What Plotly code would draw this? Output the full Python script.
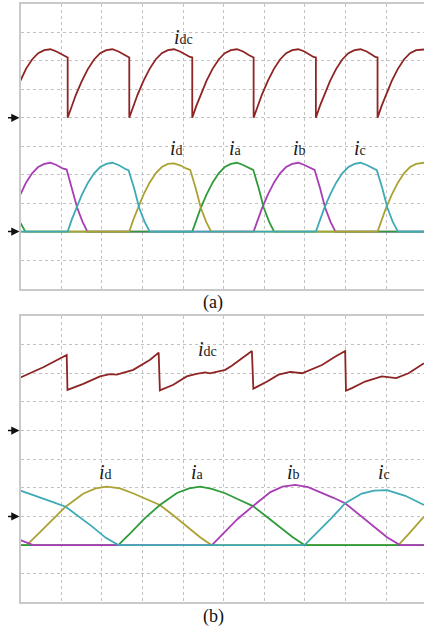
import plotly.graph_objects as go

# ---------------------------------------------------------------------------
# Waveform data: time in grid divisions, current in divisions above the
# channel's ground marker.
# ---------------------------------------------------------------------------

# (a) DC-link current
idc_a_t = [0.0, 0.135, 0.285, 0.435, 0.585, 0.735, 0.885, 1.035, 1.105, 1.161, 1.161,
           1.261, 1.361, 1.511, 1.661, 1.811, 1.961, 2.111, 2.261, 2.411, 2.561, 2.62, 2.677, 2.677,
           2.777, 2.877, 3.027, 3.177, 3.327, 3.477, 3.627, 3.777, 3.927, 4.077, 4.17, 4.227, 4.227,
           4.327, 4.427, 4.577, 4.727, 4.877, 5.027, 5.177, 5.327, 5.477, 5.627, 5.68, 5.737, 5.737,
           5.837, 5.937, 6.087, 6.237, 6.387, 6.537, 6.687, 6.837, 6.987, 7.137, 7.21, 7.269, 7.269,
           7.369, 7.469, 7.619, 7.769, 7.919, 8.069, 8.219, 8.369, 8.519, 8.669, 8.73, 8.787, 8.787,
           8.887, 8.987, 9.137, 9.287, 9.437, 9.587, 9.737, 9.93]
idc_a_i = [1.31, 1.72, 2.05, 2.27, 2.38, 2.41, 2.33, 2.20, 2.15, 2.12, 0.0,
           0.42, 0.80, 1.30, 1.72, 2.05, 2.27, 2.38, 2.41, 2.33, 2.20, 2.15, 2.12, 0.0,
           0.42, 0.80, 1.30, 1.72, 2.05, 2.27, 2.38, 2.41, 2.33, 2.20, 2.14, 2.12, 0.0,
           0.42, 0.80, 1.30, 1.72, 2.05, 2.27, 2.38, 2.41, 2.33, 2.20, 2.15, 2.12, 0.0,
           0.42, 0.80, 1.30, 1.72, 2.05, 2.27, 2.38, 2.41, 2.33, 2.20, 2.14, 2.12, 0.0,
           0.42, 0.80, 1.30, 1.72, 2.05, 2.27, 2.38, 2.41, 2.33, 2.20, 2.14, 2.12, 0.0,
           0.42, 0.80, 1.30, 1.72, 2.05, 2.27, 2.38, 2.40]

# (a) phase currents
ib_a_t = [0.0, 0.135, 0.285, 0.435, 0.585, 0.735, 0.885, 1.035, 1.135, 1.265, 1.395, 1.525, 1.645,
          5.737, 5.837, 5.937, 6.087, 6.237, 6.387, 6.537, 6.687, 6.837, 6.987, 7.137, 7.237,
          7.367, 7.497, 7.627, 7.75, 9.93]
ib_a_i = [1.31, 1.72, 2.05, 2.27, 2.38, 2.42, 2.34, 2.22, 2.18, 1.55, 0.84, 0.35, 0.0,
          0.0, 0.42, 0.80, 1.30, 1.72, 2.05, 2.27, 2.38, 2.42, 2.34, 2.22, 2.17,
          1.55, 0.84, 0.35, 0.0, 0.0]

ic_a_t = [0.0, 1.161, 1.261, 1.361, 1.511, 1.661, 1.811, 1.961, 2.111, 2.261, 2.411, 2.561, 2.661,
          2.791, 2.921, 3.051, 3.18,
          7.269, 7.369, 7.469, 7.619, 7.769, 7.919, 8.069, 8.219, 8.369, 8.519, 8.669, 8.769,
          8.899, 9.029, 9.159, 9.29, 9.93]
ic_a_i = [0.0, 0.0, 0.42, 0.80, 1.30, 1.72, 2.05, 2.27, 2.38, 2.42, 2.34, 2.22, 2.15,
          1.55, 0.84, 0.35, 0.0,
          0.0, 0.42, 0.80, 1.30, 1.72, 2.05, 2.27, 2.38, 2.42, 2.34, 2.22, 2.16,
          1.55, 0.84, 0.35, 0.0, 0.0]

id_a_t = [0.0, 2.677, 2.777, 2.877, 3.027, 3.177, 3.327, 3.477, 3.627, 3.777, 3.927, 4.077, 4.177,
          4.307, 4.437, 4.567, 4.69,
          8.787, 8.887, 8.987, 9.137, 9.287, 9.437, 9.587, 9.737, 9.93]
id_a_i = [0.0, 0.0, 0.42, 0.80, 1.30, 1.72, 2.05, 2.27, 2.38, 2.40, 2.33, 2.22, 2.17,
          1.55, 0.84, 0.35, 0.0,
          0.0, 0.42, 0.80, 1.30, 1.72, 2.05, 2.27, 2.38, 2.42]

ia_a_t = [0.0, 0.12, 4.227, 4.327, 4.427, 4.577, 4.727, 4.877, 5.027, 5.177, 5.327, 5.477, 5.627,
          5.727, 5.857, 5.987, 6.117, 6.24, 9.93]
ia_a_i = [0.30, 0.0, 0.0, 0.42, 0.80, 1.30, 1.72, 2.05, 2.27, 2.38, 2.42, 2.34, 2.22,
          2.17, 1.55, 0.84, 0.35, 0.0, 0.0]

# (b) DC-link current
idc_b_t = [0.0, 0.56, 1.137, 1.156, 1.545, 1.956, 2.20, 2.37, 2.775, 3.19, 3.40, 3.43,
           3.76, 4.09, 4.33, 4.55, 4.66, 4.80, 5.04, 5.20, 5.695, 5.73,
           6.07, 6.35, 6.64, 6.93, 7.42, 7.74, 7.99, 8.01,
           8.155, 8.48, 8.89, 9.245, 9.55, 9.93]
idc_b_i = [1.85, 2.21, 2.64, 1.42, 1.63, 1.89, 1.97, 1.95, 2.12, 2.47, 2.72, 1.40,
           1.60, 1.89, 1.98, 2.03, 2.00, 2.05, 2.12, 2.26, 2.78, 1.46,
           1.71, 1.95, 2.05, 2.00, 2.29, 2.58, 2.78, 1.39,
           1.48, 1.71, 1.89, 1.83, 2.00, 2.35]

# (b) phase currents
id_b_t = [0.0, 0.153, 0.48, 0.8, 1.11, 1.55, 1.85, 2.12, 2.45, 2.78, 3.10, 3.43, 3.75, 4.0,
          4.42, 4.70, 9.30, 9.55, 9.93]
id_b_i = [0.0, 0.0, 0.45, 0.92, 1.34, 1.80, 1.98, 2.04, 1.98, 1.80, 1.60, 1.40, 1.05, 0.76,
          0.27, 0.0, 0.0, 0.38, 0.99]

ia_b_t = [0.0, 2.406, 2.73, 3.05, 3.43, 3.85, 4.15, 4.42, 4.71, 5.05, 5.38, 5.72, 6.02, 6.28,
          6.70, 6.99, 9.93]
ia_b_i = [0.0, 0.0, 0.45, 0.92, 1.40, 1.82, 1.98, 2.04, 1.96, 1.80, 1.58, 1.36, 1.03, 0.74,
          0.27, 0.0, 0.0]

ib_b_t = [0.0, 0.31, 4.71, 5.03, 5.35, 5.72, 6.15, 6.45, 6.76, 7.08, 7.40, 7.70, 7.99, 8.32,
          8.60, 9.02, 9.34, 9.93]
ib_b_i = [0.17, 0.0, 0.0, 0.45, 0.92, 1.36, 1.85, 2.04, 2.10, 2.02, 1.84, 1.65, 1.46, 1.08,
          0.74, 0.27, 0.0, 0.0]

ic_b_t = [0.0, 0.45, 0.8, 1.11, 1.45, 1.75, 2.1, 2.41, 6.99, 7.32, 7.64, 7.99, 8.4, 8.7,
          9.02, 9.47, 9.93]
ic_b_i = [1.90, 1.66, 1.50, 1.34, 0.98, 0.66, 0.25, 0.0, 0.0, 0.45, 0.92, 1.46, 1.80, 1.90,
          1.92, 1.72, 1.40]

# ---------------------------------------------------------------------------
# Display settings
# ---------------------------------------------------------------------------
W, H = 424, 629
COL = {"dc": "#8e2424", "a": "#2f9b3b", "b": "#a83db5", "c": "#3eaab5", "d": "#aba233"}
LW = 1.8

# channel ground levels (divisions from bottom of each screen)
GND_A_DC, GND_A_PH = 6, 2
GND_B_DC, GND_B_PH = 6, 2
ARROW_A = [6, 2]
ARROW_B = [6, 3]

X_LEFT = 20.5  # left screen edge, px
PANEL_A = (4.0, 288.5)    # top, bottom in px
PANEL_B = (316.0, 602.3)


def ydom(top, bottom):
    return [(H - bottom) / H, (H - top) / H]


fig = go.Figure()


def add(t, v, gnd, color, xa, ya):
    fig.add_trace(go.Scatter(
        x=t, y=[val + gnd for val in v], mode="lines",
        line=dict(color=color, width=LW), hoverinfo="skip",
        showlegend=False, xaxis=xa, yaxis=ya))


# screen (a): DC current on top, phase currents underneath
add(idc_a_t, idc_a_i, GND_A_DC, COL["dc"], "x", "y")
add(ib_a_t, ib_a_i, GND_A_PH, COL["b"], "x", "y")
add(ia_a_t, ia_a_i, GND_A_PH, COL["a"], "x", "y")
add(id_a_t, id_a_i, GND_A_PH, COL["d"], "x", "y")
add(ic_a_t, ic_a_i, GND_A_PH, COL["c"], "x", "y")

# screen (b)
add(idc_b_t, idc_b_i, GND_B_DC, COL["dc"], "x2", "y2")
add(id_b_t, id_b_i, GND_B_PH, COL["d"], "x2", "y2")
add(ia_b_t, ia_b_i, GND_B_PH, COL["a"], "x2", "y2")
add(ib_b_t, ib_b_i, GND_B_PH, COL["b"], "x2", "y2")
add(ic_b_t, ic_b_i, GND_B_PH, COL["c"], "x2", "y2")

xcommon = dict(range=[0, 9.93], dtick=1, tick0=0, showticklabels=False, ticks="",
               showgrid=True, gridcolor="#c2c2c2", griddash="dot", gridwidth=1,
               zeroline=False, showline=True, linecolor="#c9c9c9", linewidth=1.5,
               mirror=True, fixedrange=True)
ycommon = dict(range=[0, 10], dtick=1, tick0=0, showticklabels=False, ticks="",
               showgrid=True, gridcolor="#c2c2c2", griddash="dot", gridwidth=1,
               zeroline=False, showline=True, linecolor="#c9c9c9", linewidth=1.5,
               mirror=False, fixedrange=True)

xdom = [X_LEFT / W, 1.0]
fig.update_layout(
    width=W, height=H, margin=dict(l=0, r=0, t=0, b=0),
    paper_bgcolor="white", plot_bgcolor="white",
    xaxis=dict(domain=xdom, anchor="y", **xcommon),
    yaxis=dict(domain=ydom(*PANEL_A), anchor="x", **ycommon),
    xaxis2=dict(domain=xdom, anchor="y2", **xcommon),
    yaxis2=dict(domain=ydom(*PANEL_B), anchor="x2", **ycommon),
)

SERIF = "Liberation Serif, Times New Roman, serif"


def label(sub, x, y, xr, yr):
    fig.add_annotation(
        text=f"<i>i</i><span style='font-size:14px'>{sub}</span>",
        x=x, y=y, xref=xr, yref=yr, showarrow=False,
        font=dict(family=SERIF, size=20, color="#1a1a1a"),
        xanchor="center", yanchor="middle")


# labels on screen (a)
label("dc", 4.02, 8.85, "x", "y")
label("d", 3.85, 4.95, "x", "y")
label("a", 5.30, 4.95, "x", "y")
label("b", 6.87, 4.95, "x", "y")
label("c", 8.35, 4.95, "x", "y")
# labels on screen (b)
label("dc", 4.59, 8.85, "x2", "y2")
label("d", 2.10, 4.55, "x2", "y2")
label("a", 4.35, 4.55, "x2", "y2")
label("b", 6.73, 4.55, "x2", "y2")
label("c", 8.95, 4.55, "x2", "y2")

# ground markers
for lv in ARROW_A:
    fig.add_annotation(x=19.5 / W, y=lv, xref="paper", yref="y", text="",
                       showarrow=True, ax=-13, ay=0, arrowhead=2, arrowsize=1.1,
                       arrowwidth=1.5, arrowcolor="#111111", standoff=0)
for lv in ARROW_B:
    fig.add_annotation(x=19.5 / W, y=lv, xref="paper", yref="y2", text="",
                       showarrow=True, ax=-13, ay=0, arrowhead=2, arrowsize=1.1,
                       arrowwidth=1.5, arrowcolor="#111111", standoff=0)

# captions
for txt, ypx in (("(a)", 302), ("(b)", 616)):
    fig.add_annotation(text=txt, x=213 / W, y=(H - ypx) / H, xref="paper", yref="paper",
                       showarrow=False, xanchor="center", yanchor="middle",
                       font=dict(family=SERIF, size=18, color="#111111"))

fig.write_html("out.html")
